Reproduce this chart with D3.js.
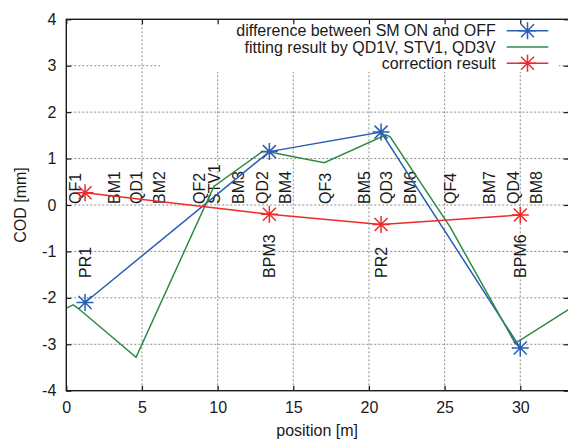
<!DOCTYPE html>
<html>
<head>
<meta charset="utf-8">
<script src="https://cdn.jsdelivr.net/npm/d3@7/dist/d3.min.js"></script>
<style>
  html, body { margin: 0; padding: 0; background: #fff; }
  svg { display: block; }
  text { font-family: "Liberation Sans", Arial, Helvetica, sans-serif; fill: #1a1a1a; }
</style>
</head>
<body>
<svg id="chart" width="568" height="440"></svg>
<script>
// ---------- data ----------
const xTicks = [0, 5, 10, 15, 20, 25, 30];
const yTicks = [-4, -3, -2, -1, 0, 1, 2, 3, 4];

const bpmPos = [1.24, 13.42, 20.8, 30.0];
const diffOnOff = [-2.10, 1.15, 1.57, -3.08];
const correction = [0.265, -0.20, -0.42, -0.215];

const fitX = [0, 0.46, 0.8, 4.61, 9.75, 12.95, 13.42, 17.05, 21.13, 21.4, 25.36, 29.65, 30.0, 33.2];
const fitY = [-2.22, -2.15, -2.23, -3.28, 0.40, 1.15, 1.14, 0.91, 1.51, 1.47, -0.47, -2.97, -2.91, -2.25];

const upperNames = ["QF1", "BM1", "QD1", "BM2", "QF2", "STV1", "BM3", "QD2", "BM4", "QF3", "BM5", "QD3", "BM6", "QF4", "BM7", "QD4", "BM8"];
const upperPos = [0.58, 3.15, 4.6, 6.15, 8.8, 9.76, 11.37, 12.98, 14.47, 17.1, 19.68, 21.13, 22.72, 25.36, 27.96, 29.55, 31.04];
const lowerNames = ["PR1", "BPM3", "PR2", "BPM6"];
const lowerPos = [1.24, 13.42, 20.8, 30.0];
const upperLabelY = 0.0;
const lowerLabelY = -1.57;

const legendNames = ["difference between SM ON and OFF", "fitting result by QD1V, STV1, QD3V", "correction result"];

// ---------- setup ----------
const svg = d3.select("#chart");
const pLeft = 66.3, pTop = 19.3, pBottom = 390.7, pRight = 568.7;
const x = d3.scaleLinear().domain([0, 33.2]).range([pLeft, pRight]);
const y = d3.scaleLinear().domain([-4, 4]).range([pBottom, pTop]);

const colBlue = "#2a5db5", colGreen = "#2f8a43", colRed = "#ee2a2a";
const fontSize = 16;
const fmt = d => String(d);

svg.append("defs").append("clipPath").attr("id", "clip")
  .append("rect").attr("x", pLeft).attr("y", pTop).attr("width", pRight - pLeft).attr("height", pBottom - pTop);

// grid
const grid = svg.append("g").attr("stroke", "#8a8a8a").attr("stroke-width", 1).attr("stroke-dasharray", "2,2");
grid.selectAll("line.gx").data(xTicks.filter(d => d > 0)).join("line")
  .attr("class", "gx")
  .attr("x1", d => x(d)).attr("x2", d => x(d)).attr("y1", pTop).attr("y2", pBottom);
grid.selectAll("line.gy").data(yTicks.filter(d => d > -4 && d < 4)).join("line")
  .attr("class", "gy")
  .attr("x1", pLeft).attr("x2", pRight).attr("y1", d => y(d)).attr("y2", d => y(d));

// legend background (covers grid)
const legTextX = 495.7, legLineX1 = 506.7, legLineX2 = 548.3;
const legRows = [30.7, 46.9, 63.3];
svg.append("rect").attr("x", 160).attr("y", pTop + 1).attr("width", 559 - 160).attr("height", 72 - pTop - 1).attr("fill", "#fff");

// element labels
const lbl = svg.append("g").attr("font-size", fontSize);
lbl.selectAll("text.u").data(upperNames).join("text")
  .attr("class", "u")
  .attr("transform", (d, i) => `translate(${x(upperPos[i])},${y(upperLabelY) - 1}) rotate(-90)`)
  .attr("dy", "0.36em")
  .text(d => d);
lbl.selectAll("text.l").data(lowerNames).join("text")
  .attr("class", "l")
  .attr("transform", (d, i) => `translate(${x(lowerPos[i])},${y(lowerLabelY)}) rotate(-90)`)
  .attr("dy", "0.36em")
  .text(d => d);

// series
const plot = svg.append("g").attr("clip-path", "url(#clip)");
const line = d3.line().x(d => x(d[0])).y(d => y(d[1]));

const fitData = fitX.map((v, i) => [v, fitY[i]]);
const diffData = bpmPos.map((v, i) => [v, diffOnOff[i]]);
const corrData = bpmPos.map((v, i) => [v, correction[i]]);

plot.append("path").datum(diffData).attr("d", line).attr("fill", "none").attr("stroke", colBlue).attr("stroke-width", 1.5);
plot.append("path").datum(fitData).attr("d", line).attr("fill", "none").attr("stroke", colGreen).attr("stroke-width", 1.5);
plot.append("path").datum(corrData).attr("d", line).attr("fill", "none").attr("stroke", colRed).attr("stroke-width", 1.5);

function star(g, cx, cy, color) {
  const s = 8.5, c = 6.5;
  const p = `M${cx - s},${cy}H${cx + s}M${cx},${cy - s}V${cy + s}` +
            `M${cx - c},${cy - c}L${cx + c},${cy + c}M${cx - c},${cy + c}L${cx + c},${cy - c}`;
  g.append("path").attr("d", p).attr("stroke", color).attr("stroke-width", 1.5).attr("fill", "none");
}
const marks = svg.append("g");
diffData.forEach(d => star(marks, x(d[0]), y(d[1]), colBlue));
corrData.forEach(d => star(marks, x(d[0]), y(d[1]), colRed));

// axes (inward ticks, mirrored)
const tickLen = 5;
const axL = svg.append("g").attr("transform", `translate(${pLeft},0)`)
  .call(d3.axisLeft(y).tickValues(yTicks).tickSize(-tickLen).tickPadding(10).tickFormat(fmt));
const axB = svg.append("g").attr("transform", `translate(0,${pBottom})`)
  .call(d3.axisBottom(x).tickValues(xTicks).tickSize(-tickLen).tickPadding(11).tickFormat(fmt));
const axR = svg.append("g").attr("transform", `translate(${pRight},0)`)
  .call(d3.axisRight(y).tickValues(yTicks).tickSize(-tickLen).tickFormat(""));
const axT = svg.append("g").attr("transform", `translate(0,${pTop})`)
  .call(d3.axisTop(x).tickValues(xTicks).tickSize(-tickLen).tickFormat(""));
[axL, axB, axR, axT].forEach(a => {
  a.select(".domain").remove();
  a.selectAll(".tick line").attr("stroke", "#1a1a1a").attr("stroke-width", 1.2);
  a.selectAll("text").attr("font-size", fontSize).attr("font-family", "Liberation Sans, Arial, sans-serif").attr("fill", "#1a1a1a");
});

// frame
svg.append("rect").attr("x", pLeft).attr("y", pTop).attr("width", pRight - pLeft).attr("height", pBottom - pTop)
  .attr("fill", "none").attr("stroke", "#1a1a1a").attr("stroke-width", 1.4);

// axis titles
svg.append("text").attr("x", (pLeft + 568) / 2).attr("y", 436).attr("text-anchor", "middle")
  .attr("font-size", fontSize).text("position [m]");
svg.append("text").attr("transform", `translate(20,${(pTop + pBottom) / 2}) rotate(-90)`)
  .attr("text-anchor", "middle").attr("dy", "0.36em").attr("font-size", fontSize).text("COD [mm]");

// legend
const leg = svg.append("g");
legendNames.forEach((name, i) => {
  const cy = legRows[i];
  leg.append("text").attr("x", legTextX).attr("y", cy).attr("dy", "0.36em").attr("text-anchor", "end")
    .attr("font-size", fontSize).text(name);
  const col = [colBlue, colGreen, colRed][i];
  leg.append("line").attr("x1", legLineX1).attr("x2", legLineX2).attr("y1", cy).attr("y2", cy)
    .attr("stroke", col).attr("stroke-width", 1.5);
  if (i !== 1) star(leg, (legLineX1 + legLineX2) / 2, cy, col);
});
</script>
</body>
</html>
